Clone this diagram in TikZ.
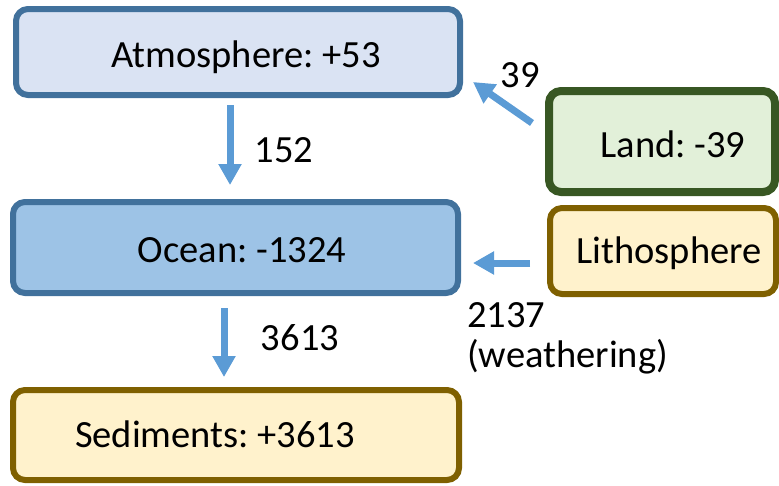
\documentclass[tikz,border=0pt]{standalone}
\usepackage{fontspec}
\setmainfont{Carlito}
\frenchspacing
\usetikzlibrary{arrows.meta}
\definecolor{blueborder}{HTML}{41719C}
\definecolor{atmfill}{HTML}{DAE3F3}
\definecolor{oceanfill}{HTML}{9DC3E6}
\definecolor{greenborder}{HTML}{385723}
\definecolor{landfill}{HTML}{E2F0D9}
\definecolor{goldborder}{HTML}{7F6000}
\definecolor{goldfill}{HTML}{FFF2CC}
\definecolor{arrowblue}{HTML}{5B9BD5}
\tikzset{
  boxbase/.style={draw, rounded corners=12pt, inner sep=0pt, outer sep=0pt, line width=6pt},
  txt/.style={anchor=base, inner sep=0pt, font=\fontsize{38.5}{40}\selectfont\frenchspacing},
  flow/.style={draw=arrowblue, line width=7pt, -{Triangle[width=22pt,length=21pt]}}
}
\begin{document}
\begin{tikzpicture}[x=1pt,y=1pt]
\useasboundingbox (0,0) rectangle (779,-485);
% boxes
\node[boxbase, draw=blueborder, fill=atmfill, minimum width=444pt, minimum height=86pt] (atm) at (238,-52) {};
\node[boxbase, draw=blueborder, fill=oceanfill, minimum width=445pt, minimum height=91pt] (oce) at (235.5,-247.5) {};
\node[boxbase, draw=goldborder, fill=goldfill, minimum width=446pt, minimum height=90pt] (sed) at (236,-435) {};
\node[boxbase, draw=greenborder, fill=landfill, line width=8pt, minimum width=226pt, minimum height=101pt] (land) at (662,-141.5) {};
\node[boxbase, draw=goldborder, fill=goldfill, minimum width=226pt, minimum height=86pt] (litho) at (663,-251) {};
% box texts
\node[txt] (atmt) at (246,-67) {Atmosphere: +53};
\node[txt] (ocet) at (242,-262) {Ocean: -1324};
\node[txt] (sedt) at (215,-447) {Sediments: +3613};
\node[txt] (landt) at (673,-157) {Land: -39};
\node[txt] (lithot) at (669,-263) {Lithosphere};
% flows
\draw[flow] ([xshift=-8pt,yshift=-10pt]atm.south) -- ([xshift=-5.5pt,yshift=17pt]oce.north);
\draw[flow] ([xshift=-11.5pt,yshift=-15pt]oce.south) -- ([xshift=-12pt,yshift=13pt]sed.north);
\draw[flow] ([xshift=-17pt,yshift=18.5pt]land.west) -- ([xshift=13pt,yshift=-30pt]atm.east);
\draw[flow] ([xshift=-20pt,yshift=-12pt]litho.west) -- ([xshift=15pt,yshift=-15.5pt]oce.east);
% flow labels
\node[txt] (l152) at (284,-162) {152};
\node[txt] (l3613) at (300,-350) {3613};
\node[txt] (l39) at (520,-87) {39};
\node[txt, anchor=base west, align=left] (l2137) at (467,-367) {2137\\(weathering)};
\end{tikzpicture}
\end{document}
